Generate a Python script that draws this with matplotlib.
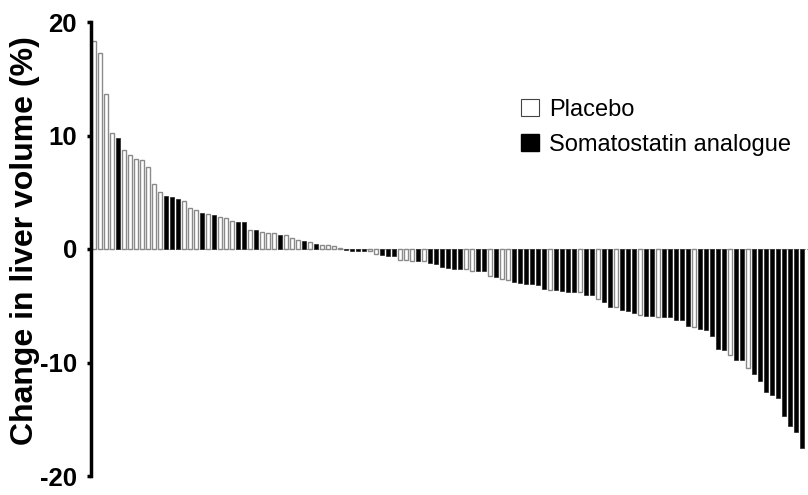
import matplotlib
matplotlib.use("Agg")
import matplotlib.pyplot as plt
from matplotlib.patches import Patch

plt.rcParams['font.family'] = ['Liberation Sans', 'DejaVu Sans']
plt.rcParams['axes.unicode_minus'] = False

values = [18.3, 17.3, 13.7, 10.2, 9.8, 8.7, 8.3, 7.9, 7.8, 7.2,
          5.7, 5.0, 4.7, 4.6, 4.4, 4.2, 3.6, 3.4, 3.2, 3.05,
          2.96, 2.8, 2.7, 2.5, 2.35, 2.35, 1.7, 1.67, 1.5, 1.44,
          1.38, 1.26, 1.26, 0.94, 0.76, 0.7, 0.59, 0.44, 0.38, 0.35,
          0.3, 0.12, -0.12, -0.14, -0.16, -0.18, -0.2, -0.4, -0.5, -0.6,
          -0.65, -1.0, -1.0, -1.02, -1.1, -1.1, -1.2, -1.35, -1.6, -1.7,
          -1.73, -1.76, -1.8, -1.9, -1.9, -1.93, -2.4, -2.5, -2.6, -2.7,
          -2.9, -3.0, -3.05, -3.1, -3.2, -3.5, -3.6, -3.6, -3.66, -3.79,
          -3.79, -3.81, -4.08, -4.08, -4.37, -4.64, -5.13, -5.13, -5.4, -5.43,
          -5.63, -5.81, -5.9, -5.9, -5.96, -5.99, -5.99, -6.22, -6.28, -6.75,
          -6.87, -7.04, -7.16, -7.69, -8.77, -8.86, -9.33, -9.74, -9.74, -10.5,
          -11.0, -11.6, -12.6, -12.85, -13.1, -14.7, -15.6, -16.1, -17.5]
groups = list("PPPPSPPPPP"
              "PPSSSPPPSP"
              "SPPPSSPSPP"
              "PSPPPSPSPP"
              "PPSSSSPPSS"
              "SPPPSPSSSS"
              "SSPPSSPSPP"
              "SSSSSSPSSS"
              "SPSSPSSPSS"
              "SPSSPSSSSS"
              "PSSSSSPSSP"
              "SSSSSSSSS")
labels = {"P": "Placebo", "S": "Somatostatin analogue"}
yticks = [-20, -10, 0, 10, 20]

fig = plt.figure(figsize=(8.08, 4.95), dpi=100)
ax = fig.add_axes([91/808, 19/495, 1 - 91/808, (476-22)/495])

x = list(range(len(values)))
fill = ['white' if g == 'P' else 'black' for g in groups]
edge = ['#8a8a8a' if g == 'P' else '#222222' for g in groups]
lw = [1.0 if g == 'P' else 0.5 for g in groups]
ax.bar(x, values, width=0.55, color=fill, edgecolor=edge, linewidth=lw, zorder=2)
ax.axhline(0, color='#9a9a9a', lw=0.8, ls=(0, (1, 1)), zorder=1)

ax.set_xlim(-0.5, 119)
ax.set_ylim(-20, 20)
ax.set_yticks(yticks)
ax.set_yticklabels([str(t) for t in yticks], fontsize=18.5, fontweight='bold')
ax.set_xticks([])
for s in ['top', 'right', 'bottom']:
    ax.spines[s].set_visible(False)
ax.spines['left'].set_linewidth(2.5)
ax.tick_params(axis='y', length=3, width=2.5, pad=7)
ax.set_ylabel("Change in liver volume (%)", fontsize=23, fontweight='bold')
ax.yaxis.set_label_coords(-0.071, 0.518)

handles = [Patch(facecolor='white', edgecolor='#444444', linewidth=0.8, label=labels['P']),
           Patch(facecolor='black', edgecolor='black', label=labels['S'])]
fig.legend(handles=handles, loc='upper left', bbox_to_anchor=(521/808, 1 - 99/495),
           frameon=False, fontsize=17, handlelength=0.75, handleheight=0.75,
           handletextpad=0.45, labelspacing=0.55, borderpad=0, borderaxespad=0)

fig.savefig("out.png", dpi=100)
